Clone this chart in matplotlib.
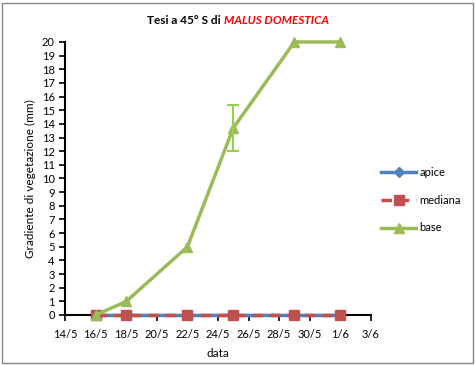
import datetime as dt
import numpy as np
import matplotlib
matplotlib.use("Agg")
import matplotlib.pyplot as plt
import matplotlib.dates as mdates
from matplotlib.ticker import FuncFormatter, MultipleLocator

plt.rcParams['font.family'] = ['Lato', 'DejaVu Sans']

# sampling dates (2013-ish, year irrelevant)
dates = [dt.date(2020, 5, 16), dt.date(2020, 5, 18), dt.date(2020, 5, 22),
         dt.date(2020, 5, 25), dt.date(2020, 5, 29), dt.date(2020, 6, 1)]
apice = [0, 0, 0, 0, 0, 0]
mediana = [0, 0, 0, 0, 0, 0]
base = [0, 1, 5, 13.7, 20, 20]
base_err = [0, 0, 0, 1.7, 0, 0]

blue = '#4F81BD'
red = '#C0504D'
green = '#9BBB59'

fig = plt.figure(figsize=(4.76, 3.65), dpi=100)
ax = fig.add_axes([0.137, 0.137, 0.642, 0.748])

x = mdates.date2num(dates)
ax.plot(x, apice, color=blue, lw=2.5, marker='D', ms=5, label='apice', clip_on=False, zorder=3)
ax.plot(x, mediana, color=red, lw=2.5, ls=(0, (3, 2)), marker='s', ms=7, label='mediana', clip_on=False, zorder=4)
ax.plot(x, base, color=green, lw=2.5, marker='^', ms=7, label='base', clip_on=False, zorder=5)

# error bar only where measured
err = np.array(base_err)
m = err > 0
ax.errorbar(x[m], np.array(base)[m], yerr=err[m], fmt='none', ecolor='#92D050',
            elinewidth=1.5, capsize=4, capthick=1.5, zorder=6)

ax.set_xlim(mdates.date2num(dt.date(2020, 5, 14)), mdates.date2num(dt.date(2020, 6, 3)))
ax.set_ylim(0, 20)
ax.xaxis.set_major_locator(MultipleLocator(2))
ax.xaxis.set_major_formatter(FuncFormatter(
    lambda v, p: f"{mdates.num2date(v).day}/{mdates.num2date(v).month}"))
ax.yaxis.set_major_locator(MultipleLocator(1))

for s in ['top', 'right']:
    ax.spines[s].set_visible(False)
for s in ['left', 'bottom']:
    ax.spines[s].set_linewidth(1.5)
ax.tick_params(axis='both', labelsize=8, width=1.2, length=4, direction='out')
ax.tick_params(axis='x', pad=6)

ax.set_xlabel('data', fontsize=8.5, labelpad=6)
ax.set_ylabel('Gradiente di vegetazione (mm)', fontsize=8.5, labelpad=4)

ax.legend(loc='center left', bbox_to_anchor=(1.0, 0.42), frameon=False, fontsize=8,
          handlelength=3.2, labelspacing=1.5, handletextpad=0.3)

# title in two styles
fig.canvas.draw()
r = fig.canvas.get_renderer()
t1 = fig.text(0, 0.945, 'Tesi a 45° S di ', fontsize=8.5, fontweight='bold', va='center')
t2 = fig.text(0, 0.945, 'MALUS DOMESTICA', fontsize=8.5, fontweight='bold', style='italic',
              color='#FF0000', va='center')
w1 = t1.get_window_extent(r).width / fig.bbox.width
w2 = t2.get_window_extent(r).width / fig.bbox.width
x0 = 0.5 - (w1 + w2) / 2
t1.set_x(x0)
t2.set_x(x0 + w1)

# chart border
fig.patches.append(plt.Rectangle((0.004, 0.006), 0.99, 0.986, transform=fig.transFigure,
                                 fill=False, edgecolor='#868686', lw=1))

fig.savefig('out.png', dpi=100)
